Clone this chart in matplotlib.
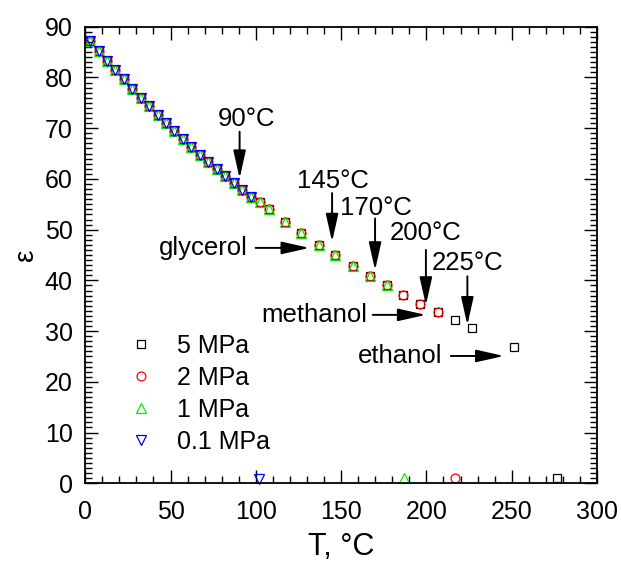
import matplotlib
matplotlib.use("Agg")
import matplotlib.pyplot as plt
from matplotlib.ticker import MultipleLocator

plt.rcParams['font.family'] = ['Liberation Sans', 'DejaVu Sans']

# liquid water points shared by all pressures
t_common = [2.8, 7.8, 12.7, 17.7, 22.6, 27.6, 32.5, 37.5, 42.4, 47.4,
            52.3, 57.3, 62.2, 67.2, 72.1, 77.1, 82.0, 87.0, 91.9, 96.9]
eps_common = [87.1, 85.2, 83.3, 81.4, 79.6, 77.8, 76.0, 74.3, 72.6, 71.0,
              69.4, 67.8, 66.3, 64.8, 63.3, 61.9, 60.5, 59.2, 57.8, 56.5]
# extra liquid points for >= 1 MPa
t_1mpa = [102.2, 107.5, 117.4, 126.6, 136.9, 146.7, 156.8, 167.0, 176.7]
eps_1mpa = [55.4, 54.1, 51.6, 49.3, 47.0, 45.0, 42.9, 40.9, 39.1]
# extra liquid points for >= 2 MPa
t_2mpa = [186.0, 196.4, 206.9]
eps_2mpa = [37.1, 35.4, 33.7]
# extra liquid points for 5 MPa
t_5mpa = [216.8, 226.6, 251.3]
eps_5mpa = [32.2, 30.6, 26.8]
# vapour points
t_vap = {'0.1': 102.0, '1': 186.8, '2': 216.7, '5': 276.5}
eps_vap = {'0.1': 0.9, '1': 1.0, '2': 1.0, '5': 1.0}

labels = ['5 MPa', '2 MPa', '1 MPa', '0.1 MPa']

series = {
    '5': (t_common + t_1mpa + t_2mpa + t_5mpa + [t_vap['5']],
          eps_common + eps_1mpa + eps_2mpa + eps_5mpa + [eps_vap['5']]),
    '2': (t_common + t_1mpa + t_2mpa + [t_vap['2']],
          eps_common + eps_1mpa + eps_2mpa + [eps_vap['2']]),
    '1': (t_common + t_1mpa + [t_vap['1']],
          eps_common + eps_1mpa + [eps_vap['1']]),
    '0.1': (t_common + [t_vap['0.1']], eps_common + [eps_vap['0.1']]),
}
styles = {
    '5': dict(marker='s', color='black', ms=5.6),
    '2': dict(marker='o', color='#ff0000', ms=6.4),
    '1': dict(marker='^', color='#00ee00', ms=6.8),
    '0.1': dict(marker='v', color='#0000ff', ms=6.8),
}

fig = plt.figure(figsize=(6.21, 5.65), dpi=100)
ax = fig.add_axes([0.1372, 0.1446, 0.8242, 0.8081])

for key, lab in zip(['5', '2', '1', '0.1'], labels):
    t, e = series[key]
    st = styles[key]
    ax.plot(t, e, linestyle='none', marker=st['marker'], ms=st['ms'],
            mfc='none', mec=st['color'], mew=0.9, label=lab, clip_on=False)

ax.set_xlim(0, 300)
ax.set_ylim(0, 90)
ax.xaxis.set_major_locator(MultipleLocator(50))
ax.xaxis.set_minor_locator(MultipleLocator(10))
ax.yaxis.set_major_locator(MultipleLocator(10))
ax.yaxis.set_minor_locator(MultipleLocator(1))
ax.tick_params(which='both', direction='in', top=True, right=True,
               labelsize=18, width=1.0)
ax.tick_params(axis='x', which='both', pad=12)
ax.tick_params(axis='y', which='both', pad=9)
ax.tick_params(which='major', length=9.5)
ax.tick_params(which='minor', length=5)
for s in ax.spines.values():
    s.set_linewidth(1.3)

ax.set_xlabel('T, °C', fontsize=22, labelpad=6)
ax.set_ylabel('ε', fontsize=20, labelpad=4)

leg = ax.legend(loc='upper left', bbox_to_anchor=(0.05, 0.365), frameon=False,
                fontsize=18, numpoints=1, handlelength=1.0, handletextpad=0.95,
                labelspacing=0.32, borderpad=0.2)

arrow_kw = dict(arrowstyle='-|>,head_length=1.7,head_width=0.38',
                mutation_scale=10, lw=1.4, color='black',
                shrinkA=0, shrinkB=0)

# vertical arrows: (label, x, text y, start y, tip y)
v_labels = ['90°C', '145°C', '170°C', '200°C', '225°C']
v_x = [90.5, 144.7, 169.9, 199.7, 224.0]
v_text_x = [94.4, 145.1, 170.5, 199.8, 224.0]
v_text_y = [71.8, 59.5, 54.2, 49.3, 43.4]
v_start = [69.3, 57.2, 52.2, 46.0, 40.8]
v_tip = [60.1, 47.6, 42.0, 35.1, 31.2]
for lab, x, tx, ty, y0, y1 in zip(v_labels, v_x, v_text_x, v_text_y, v_start, v_tip):
    ax.annotate('', xy=(x, y1), xytext=(x, y0), arrowprops=arrow_kw)
    ax.text(tx, ty, lab, fontsize=18.5, ha='center', va='center')

# horizontal arrows: (label, text right x, y, start x, tip x)
h_labels = ['glycerol', 'methanol', 'ethanol']
h_text_x = [95.3, 165.6, 209.4]
h_y = [46.4, 33.2, 25.1]
h_start = [99.9, 168.5, 214.3]
h_tip = [131.5, 199.7, 245.5]
for lab, tx, y, x0, x1 in zip(h_labels, h_text_x, h_y, h_start, h_tip):
    ax.annotate('', xy=(x1, y), xytext=(x0, y), arrowprops=arrow_kw)
    ax.text(tx, y, lab, fontsize=18.5, ha='right', va='center')

fig.savefig('out.png', dpi=100)
